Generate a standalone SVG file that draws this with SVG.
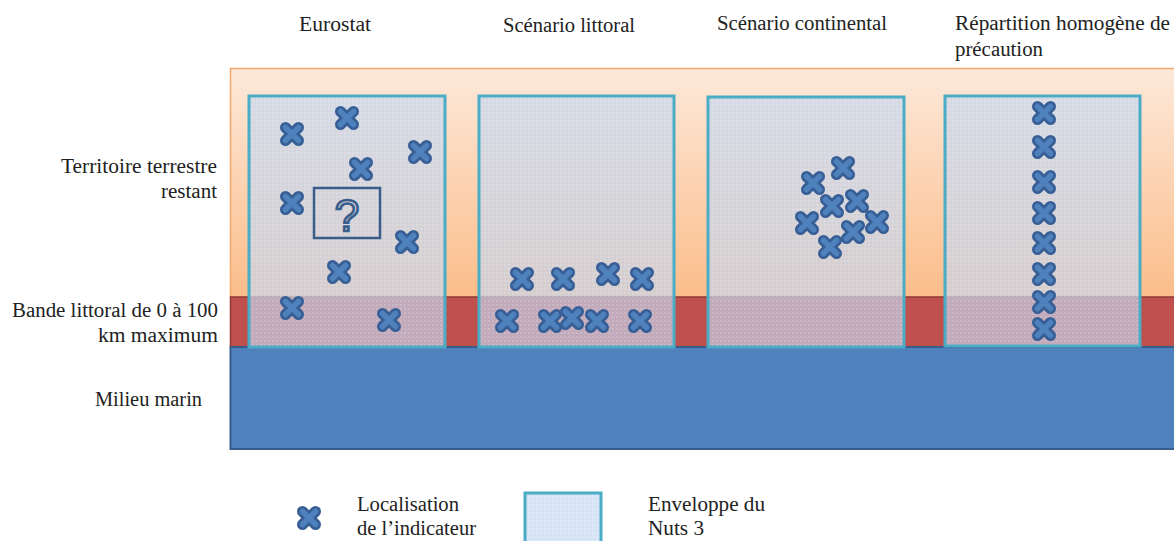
<svg xmlns="http://www.w3.org/2000/svg" width="1174" height="541" viewBox="0 0 1174 541">
<style>
text{font-family:"Liberation Serif","Times New Roman",serif;font-size:20px;fill:#222}
.env{fill:url(#dots);stroke:#4bacc6;stroke-width:3}
.xo{stroke:#375f96;stroke-width:11;stroke-linecap:round}
.xi{stroke:#4f81bd;stroke-width:5.5;stroke-linecap:round}
</style>
<defs>
<linearGradient id="og" x1="0" y1="0" x2="0" y2="1">
<stop offset="0" stop-color="#fde9da"/>
<stop offset="1" stop-color="#fbbd8a"/>
</linearGradient>
<pattern id="dots" width="4" height="4" patternUnits="userSpaceOnUse">
<rect width="4" height="4" fill="#c6d9f1" fill-opacity="0.65"/>
<circle cx="1" cy="1" r="0.8" fill="#dbe8f7" fill-opacity="0.5"/>
<circle cx="3" cy="3" r="0.8" fill="#a8c0e0" fill-opacity="0.35"/>
</pattern>
<g id="x">
<path class="xo" d="M-6.5,-6.5L6.5,6.5M6.5,-6.5L-6.5,6.5"/>
<path class="xi" d="M-6.5,-6.5L6.5,6.5M6.5,-6.5L-6.5,6.5"/>
</g>
</defs>
<g id="layers">
<rect x="230.5" y="68.5" width="950" height="229" fill="url(#og)" stroke="#f5a86a" stroke-width="1.5"/>
<rect x="230.5" y="297" width="950" height="50" fill="#c0504d" stroke="#8c3836" stroke-width="1.5"/>
<rect x="230.5" y="347" width="950" height="102" fill="#4f81bd" stroke="#385d8a" stroke-width="2"/>
</g>
<g id="labels">
<text x="299" y="31" textLength="72" lengthAdjust="spacingAndGlyphs">Eurostat</text>
<text x="503" y="32" textLength="132" lengthAdjust="spacingAndGlyphs">Scénario littoral</text>
<text x="717" y="30" textLength="170" lengthAdjust="spacingAndGlyphs">Scénario continental</text>
<text x="955" y="30" textLength="215" lengthAdjust="spacingAndGlyphs">Répartition homogène de</text>
<text x="955" y="56" textLength="88" lengthAdjust="spacingAndGlyphs">précaution</text>
<text x="61" y="173" textLength="156" lengthAdjust="spacingAndGlyphs">Territoire terrestre</text>
<text x="161" y="198" textLength="56" lengthAdjust="spacingAndGlyphs">restant</text>
<text x="12" y="317" textLength="206" lengthAdjust="spacingAndGlyphs">Bande littoral de 0 à 100</text>
<text x="98" y="342" textLength="120" lengthAdjust="spacingAndGlyphs">km maximum</text>
<text x="95" y="406" textLength="107" lengthAdjust="spacingAndGlyphs">Milieu marin</text>
</g>
<g id="box-eurostat">
<rect class="env" x="249" y="96" width="196" height="251"/>
<rect x="314" y="188" width="66" height="50" fill="none" stroke="#385d8a" stroke-width="2.5"/>
<text x="347" y="231" text-anchor="middle" style="font-family:'Liberation Sans',sans-serif;font-size:44px;fill:none;stroke:#385d8a;stroke-width:2.6">?</text>
<use href="#x" x="292" y="134"/><use href="#x" x="347" y="118"/><use href="#x" x="420" y="152"/>
<use href="#x" x="361" y="169"/><use href="#x" x="292" y="203"/><use href="#x" x="407" y="242"/>
<use href="#x" x="339" y="272"/><use href="#x" x="292" y="308"/><use href="#x" x="389" y="320"/>
</g>
<g id="box-littoral">
<rect class="env" x="479" y="96" width="195" height="251"/>
<use href="#x" x="522" y="279"/><use href="#x" x="563" y="279"/><use href="#x" x="608" y="274"/><use href="#x" x="642" y="279"/>
<use href="#x" x="507" y="321"/><use href="#x" x="550" y="321"/><use href="#x" x="572" y="318"/><use href="#x" x="597" y="321"/><use href="#x" x="640" y="321"/>
</g>
<g id="box-continental">
<rect class="env" x="708" y="97" width="196" height="250"/>
<use href="#x" x="843" y="168"/><use href="#x" x="813" y="183"/><use href="#x" x="832" y="206"/><use href="#x" x="857" y="201"/>
<use href="#x" x="807" y="223"/><use href="#x" x="877" y="222"/><use href="#x" x="853" y="232"/><use href="#x" x="830" y="247"/>
</g>
<g id="box-homogene">
<rect class="env" x="945" y="96" width="195" height="250"/>
<use href="#x" x="1044" y="113"/><use href="#x" x="1044" y="147"/><use href="#x" x="1044" y="182"/><use href="#x" x="1044" y="213"/>
<use href="#x" x="1044" y="243"/><use href="#x" x="1044" y="274"/><use href="#x" x="1044" y="302"/><use href="#x" x="1044" y="329"/>
</g>
<g id="legend">
<use href="#x" x="309" y="518"/>
<text x="357" y="511" textLength="102" lengthAdjust="spacingAndGlyphs">Localisation</text>
<text x="357" y="535" textLength="119" lengthAdjust="spacingAndGlyphs">de l’indicateur</text>
<rect class="env" x="525" y="493" width="76" height="60"/>
<text x="648" y="511" textLength="117" lengthAdjust="spacingAndGlyphs">Enveloppe du</text>
<text x="648" y="535" textLength="56" lengthAdjust="spacingAndGlyphs">Nuts 3</text>
</g>
</svg>
